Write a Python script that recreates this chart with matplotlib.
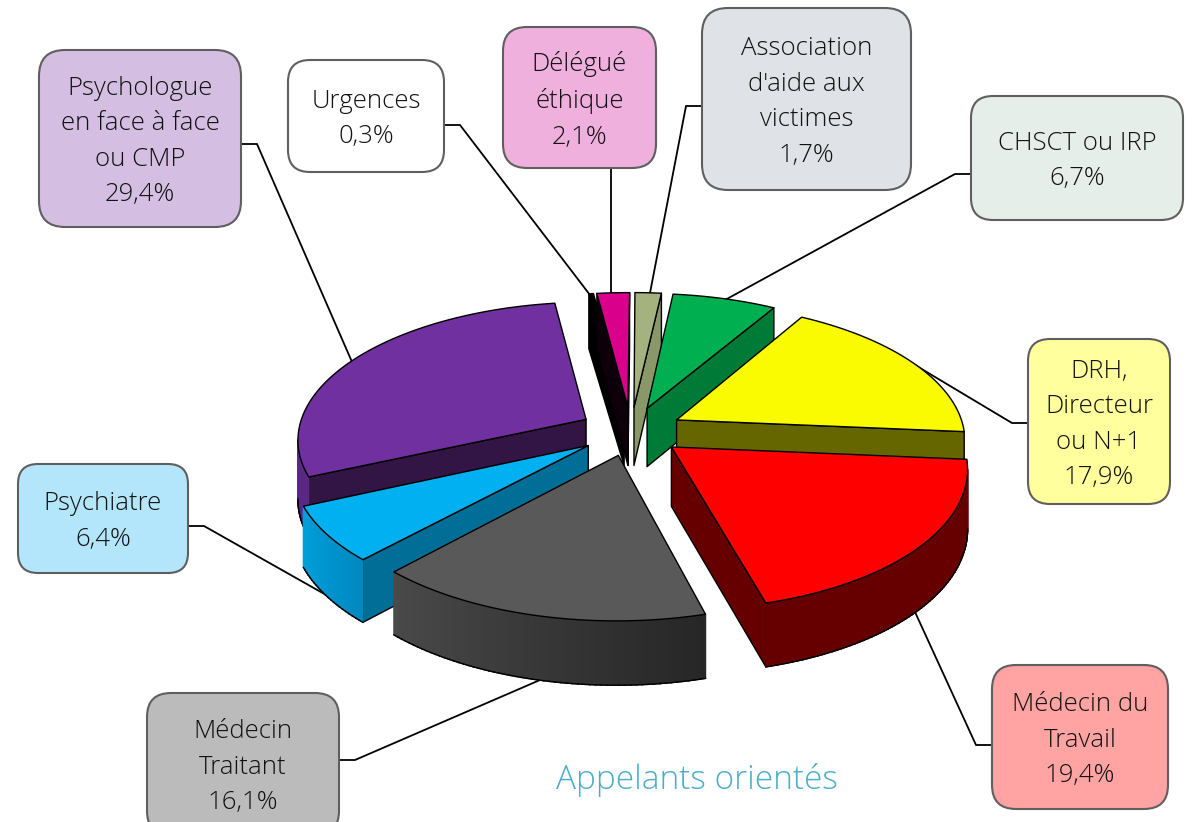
#!/usr/bin/env python3
"""Exploded 3D-looking pie of where callers were sent, with callout boxes."""

import numpy as np
import matplotlib
matplotlib.use("Agg")
import matplotlib.pyplot as plt
from matplotlib.patches import FancyBboxPatch, Polygon

plt.rcParams["font.family"] = ["Open Sans", "DejaVu Sans"]

# Clockwise from 12 o'clock
labels = ["Association\nd'aide aux\nvictimes", "CHSCT ou IRP", "DRH,\nDirecteur\nou N+1",
          "Médecin du\nTravail", "Médecin\nTraitant", "Psychiatre",
          "Psychologue\nen face à face\nou CMP", "Urgences", "Délégué\néthique"]
values = [1.7, 6.7, 17.9, 19.4, 16.1, 6.4, 29.4, 0.3, 2.1]

top_colors = ["#A3B27E", "#00B050", "#FAFA00", "#FF0000", "#595959", "#00B0F0", "#7030A0", "#000000", "#D9008C"]
side_colors = ["#8A9869", "#007A37", "#666600", "#660000", "#333333", "#006E96", "#321445", "#000000", "#0D000A"]
outer_start = ["#8A9869", "#007A37", "#666600", "#660000", "#262626", "#0088C0", "#5A2785", "#000000", "#0D000A"]
outer_end = ["#8A9869", "#007A37", "#666600", "#660000", "#4A4A4A", "#00A0DC", "#5A2785", "#000000", "#0D000A"]

# Back to front
draw_order = [7, 8, 0, 1, 6, 2, 5, 3, 4]

# Callout boxes: left, top, right, bottom, corner radius
box_left = [702, 971, 1028, 992, 147, 18, 39, 288, 503]
box_top = [8, 96, 339, 665, 693, 464, 50, 60, 27]
box_right = [911, 1183, 1170, 1168, 339, 188, 241, 444, 656]
box_bottom = [190, 220, 504, 809, 835, 573, 227, 172, 168]
box_radius = [26, 22, 22, 24, 24, 20, 26, 22, 24]
box_colors = ["#DFE2E6", "#E6EEEA", "#FFFF9E", "#FFA3A3", "#BBBBBB", "#B3E6FA", "#D4BFE3", "#FFFFFF", "#F0B0DE"]

leader_x = [[702, 686, 650], [971, 955, 725], [1028, 1012, 915], [992, 976, 915], [339, 355, 540],
            [188, 204, 335], [241, 257, 352], [444, 460, 590], [611, 611]]
leader_y = [[106, 106, 293], [174, 174, 300], [423, 423, 365], [745, 745, 612], [760, 760, 680],
            [526, 526, 600], [144, 144, 362], [125, 125, 295], [168, 295]]

CX, CY = 631, 431
RX, RY = 288, 136
PERSP = 0.135
EXPLODE = 0.18
DEPTH = 59
ROTATION = 0.3


def project(u, v, low=False):
    s = 1 / (1 - PERSP * v)
    y = CY + RY * v * s + (DEPTH * np.sqrt(s) if low else 0)
    return np.column_stack([CX + RX * u * s, y])


def signed_area(p):
    x, y = p[:, 0], p[:, 1]
    return 0.5 * np.sum(x * np.roll(y, -1) - np.roll(x, -1) * y)


def add_poly(ax, pts, face, edge="black", lw=1.0):
    ax.add_patch(Polygon(pts, closed=True, facecolor=face, edgecolor=edge, linewidth=lw,
                         joinstyle="round", zorder=3))


def draw_wall(ax, u, v, face, edge="black"):
    # u, v run along the top edge, wall hangs below it; skip if facing away
    pts = np.vstack([project(u, v), project(u[::-1], v[::-1], low=True)])
    if signed_area(pts) < 0:
        add_poly(ax, pts, face, edge)


def draw_wedge(ax, i, a0, a1):
    mid = (a0 + a1) / 2
    ou, ov = EXPLODE * np.sin(mid), -EXPLODE * np.cos(mid)
    t = np.linspace(a0, a1, max(int((a1 - a0) * 60), 4))
    u = ou + np.sin(t)
    v = ov - np.cos(t)

    # radial walls
    draw_wall(ax, np.array([u[-1], ou]), np.array([v[-1], ov]), side_colors[i])
    draw_wall(ax, np.array([ou, u[0]]), np.array([ov, v[0]]), side_colors[i])

    # curved outer wall, shaded strip by strip
    c0 = np.array(matplotlib.colors.to_rgb(outer_start[i]))
    c1 = np.array(matplotlib.colors.to_rgb(outer_end[i]))
    for k in range(len(t) - 1):
        f = (k + 0.5) / (len(t) - 1)
        col = c0 + (c1 - c0) * f
        draw_wall(ax, u[k:k + 2], v[k:k + 2], col, edge=col)
    # outline of the outer wall
    for k in range(len(t) - 1):
        seg = np.vstack([project(u[k:k + 2], v[k:k + 2]), project(u[k:k + 2][::-1], v[k:k + 2][::-1], low=True)])
        if signed_area(seg) < 0:
            low = project(u[k:k + 2], v[k:k + 2], low=True)
            ax.plot(low[:, 0], low[:, 1], color="black", lw=1.0, zorder=3)

    # top face
    top = np.vstack([project(np.array([ou]), np.array([ov])), project(u, v)])
    add_poly(ax, top, top_colors[i])


def main():
    fig = plt.figure(figsize=(11.94, 8.22), dpi=100)
    ax = fig.add_axes([0, 0, 1, 1])
    ax.set_xlim(0, 1194)
    ax.set_ylim(822, 0)
    ax.axis("off")

    # leaders go under the pie
    for lx, ly in zip(leader_x, leader_y):
        ax.plot(lx, ly, color="black", lw=1.3, zorder=1, solid_joinstyle="miter")

    edges = np.radians(np.cumsum([0] + values) * 3.6 + ROTATION)
    for i in draw_order:
        draw_wedge(ax, i, edges[i], edges[i + 1])

    for i in range(len(values)):
        l, t, r, b = box_left[i], box_top[i], box_right[i], box_bottom[i]
        ax.add_patch(FancyBboxPatch((l, t), r - l, b - t,
                                    boxstyle=f"round,pad=0,rounding_size={box_radius[i]}",
                                    facecolor=box_colors[i], edgecolor="#5F5F5F", linewidth=1.5, zorder=4))
        pct = f"{values[i]:.1f}%".replace(".", ",")
        ty = (t + b) / 2 + 3
        ax.text((l + r) / 2, ty, labels[i] + "\n" + pct, ha="center", va="center",
                fontsize=18.5, fontweight="light", color="#111111", linespacing=1.55, zorder=5)

    ax.text(697, 780, "Appelants orientés", ha="center", va="center", fontsize=24,
            fontweight="light", color="#4BAEC8", zorder=5)

    plt.savefig("out.png", dpi=100)


if __name__ == "__main__":
    main()
